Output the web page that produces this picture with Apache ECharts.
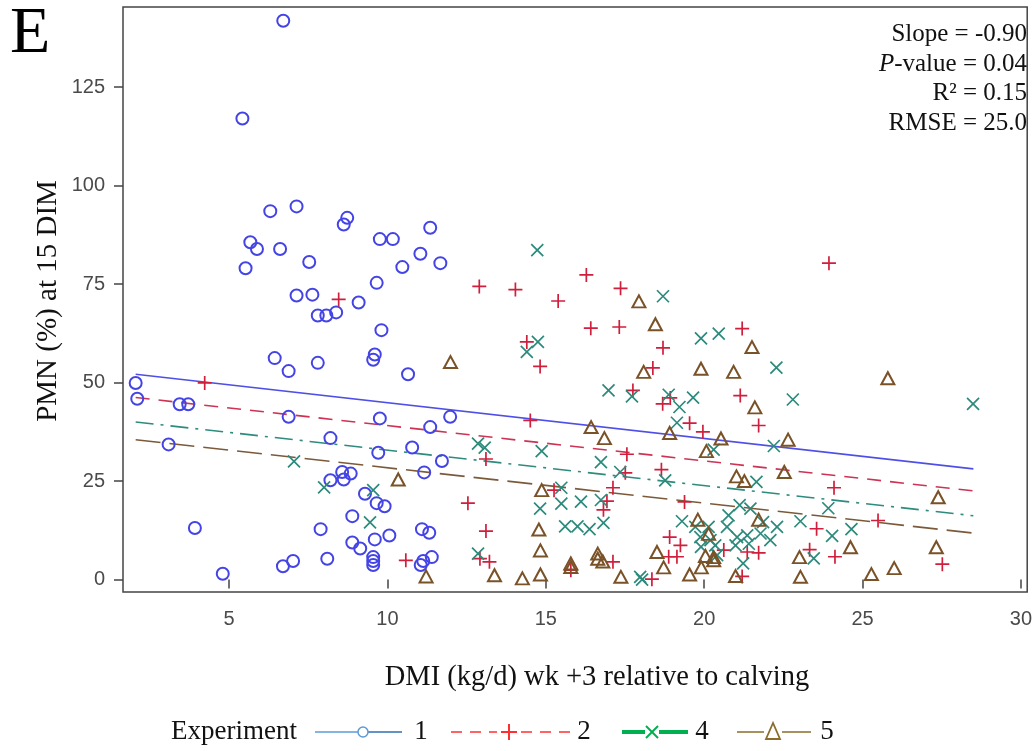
<!DOCTYPE html>
<html><head><meta charset="utf-8">
<script src="https://cdn.jsdelivr.net/npm/echarts@6/dist/echarts.min.js"></script>
<style>html,body{margin:0;padding:0;background:#fff}#c{width:1035px;height:751px}</style>
</head><body><div id="c"></div>
<script>
// Experiment 1 (blue circles) [DMI, PMN]
const exp1 = [[6.71,141.8],[5.42,117.0],[6.30,93.5],[7.13,94.7],[8.73,91.8],[8.62,90.1],[5.67,85.6],[5.88,83.9],[6.61,83.9],[5.52,79.0],[7.53,80.6],[7.13,72.1],[7.63,72.3],[9.09,70.3],[7.80,67.0],[8.07,67.0],[8.38,67.8],[6.44,56.2],[6.88,52.9],[7.80,55.0],[2.05,49.9],[2.10,45.9],[3.44,44.5],[3.71,44.5],[6.88,41.3],[3.09,34.3],[8.20,35.9],[8.57,27.3],[8.84,26.9],[8.62,25.4],[8.20,25.2],[9.29,21.8],[8.89,16.1],[3.92,13.1],[7.89,12.8],[8.89,9.4],[9.14,7.9],[6.70,3.4],[7.02,4.7],[8.10,5.3],[4.80,1.5],[11.35,89.3],[9.76,86.4],[10.17,86.4],[11.04,82.7],[10.47,79.3],[11.67,80.3],[9.66,75.3],[9.81,63.3],[9.60,57.1],[9.55,55.8],[10.65,52.1],[9.76,40.9],[11.35,38.7],[11.98,41.3],[9.71,32.2],[10.78,33.5],[11.72,30.1],[11.16,27.2],[9.66,19.4],[9.91,18.6],[10.06,11.2],[9.60,10.2],[11.09,12.8],[11.32,11.9],[9.55,5.7],[9.55,4.7],[9.55,3.7],[11.40,5.7],[11.13,4.7],[11.05,3.7]];
// Experiment 2 (red plus)
const exp2 = [[8.46,71.1],[4.23,49.9],[12.90,74.4],[14.04,73.6],[15.39,70.7],[16.28,77.3],[16.42,63.8],[14.40,60.3],[14.82,54.1],[14.51,40.4],[13.11,30.6],[12.54,19.4],[13.11,12.3],[12.92,5.3],[13.22,4.5],[10.58,4.9],[15.26,22.7],[16.93,19.9],[16.82,17.7],[15.79,2.4],[17.36,73.9],[17.32,64.1],[18.70,58.8],[21.20,63.7],[18.38,53.7],[17.75,48.0],[18.93,46.1],[18.69,44.6],[21.14,46.7],[19.54,39.7],[19.96,37.5],[21.72,39.1],[17.56,31.8],[17.51,27.1],[18.65,27.9],[17.12,23.3],[19.38,19.7],[18.35,0.1],[18.91,10.8],[19.25,8.7],[18.88,5.8],[19.14,5.8],[17.12,4.5],[21.20,0.8],[20.62,7.5],[21.36,7.0],[21.72,6.8],[23.33,7.6],[23.55,12.9],[23.94,80.3],[27.52,3.9],[25.49,15.0],[24.10,23.3],[24.13,5.8]];
// Experiment 4 (green x)
const exp4 = [[7.05,30.0],[8.00,23.4],[9.55,22.7],[9.45,14.5],[12.86,34.5],[13.07,33.5],[12.86,6.6],[14.73,83.6],[14.75,60.3],[14.40,57.8],[16.98,48.0],[14.87,32.6],[16.74,29.8],[15.49,23.3],[14.82,18.0],[15.49,19.3],[16.11,19.8],[16.74,20.2],[15.61,13.5],[16.00,13.5],[16.38,12.8],[16.82,14.4],[18.70,71.9],[19.90,61.2],[20.46,62.4],[22.28,53.8],[17.72,46.5],[18.88,46.9],[19.22,43.8],[19.65,46.2],[22.80,45.7],[19.14,39.8],[20.30,33.0],[22.20,33.9],[17.35,27.3],[18.77,25.2],[21.65,24.8],[19.30,14.8],[17.98,0.7],[18.04,0.0],[23.04,14.8],[23.46,5.4],[28.49,44.6],[24.65,12.8],[24.04,11.1],[23.92,18.1],[19.72,13.4],[19.88,10.8],[20.14,13.4],[19.90,8.3],[20.20,10.0],[20.35,8.7],[20.41,6.2],[20.72,13.4],[20.77,16.3],[21.12,18.9],[21.46,18.0],[21.04,10.8],[20.99,8.7],[21.36,11.2],[21.41,9.1],[21.78,11.7],[21.86,14.6],[22.09,10.0],[22.30,13.4],[21.23,4.1]];
// Experiment 5 (brown triangles)
const exp5 = [[11.99,55.2],[10.34,25.4],[11.22,0.8],[13.38,1.1],[14.26,0.3],[14.83,1.3],[16.43,38.7],[16.85,35.9],[14.87,22.7],[14.78,12.7],[14.83,7.4],[15.79,4.1],[15.79,3.2],[16.64,6.6],[16.64,5.3],[16.80,4.6],[17.94,70.6],[18.46,64.8],[21.51,59.0],[18.09,52.7],[19.90,53.5],[20.93,52.7],[21.60,43.7],[18.91,37.2],[20.07,32.6],[20.53,35.8],[22.65,35.5],[21.02,26.2],[21.27,25.0],[22.53,27.3],[19.80,15.2],[20.14,11.6],[20.04,6.0],[20.30,5.7],[20.30,4.9],[19.91,3.1],[18.51,7.0],[18.72,3.1],[19.54,1.3],[17.37,0.7],[20.99,0.9],[21.72,15.2],[23.01,5.7],[23.04,0.7],[25.80,51.1],[27.39,20.9],[27.33,8.2],[25.28,1.4],[26.00,2.9],[24.62,8.2]];
// Fitted lines (start/end DMI, predicted PMN)
const fitX = [2.05, 28.5];
const fit1 = [52.1, 28.1];
const fit2 = [46.2, 22.5];
const fit4 = [40.0, 16.2];
const fit5 = [35.5, 11.8];
// Axis ticks
const xTicks = [5, 10, 15, 20, 25, 30];
const yTicks = [0, 25, 50, 75, 100, 125];
const stats = ['Slope = -0.90', '{i|P}-value = 0.04', 'R\u00B2 = 0.15', 'RMSE = 25.0'];
const legendNames = ['1', '2', '4', '5'];

const SERIF = 'Liberation Serif';
const SANS = 'Liberation Sans';
const C1 = '#4444e6', C2 = '#d01f3c', C4 = '#2b8a7c', C5 = '#7a5228';

const chart = echarts.init(document.getElementById('c'));
const pair = (ys) => fitX.map((x, i) => [x, ys[i]]);

const graphics = [];
graphics.push({type:'text', x:10, y:35, style:{text:'E', font:'66px ' + SERIF, fill:'#000', verticalAlign:'middle'}});
const statY = [34, 64, 93, 123];
stats.forEach((t, i) => graphics.push({type:'text', x:1027, y:statY[i], style:{text:t, fontFamily:SERIF, fontSize:25, fill:'#111', align:'right', verticalAlign:'middle', rich:{i:{fontFamily:SERIF, fontSize:25, fontStyle:'italic', fill:'#111'}}}}));
graphics.push({type:'text', x:597, y:678, style:{text:'DMI (kg/d) wk +3 relative to calving', fontFamily:SERIF, fontSize:28.5, fill:'#111', align:'center', verticalAlign:'middle'}});
graphics.push({type:'text', x:48, y:301, rotation:Math.PI/2, style:{text:'PMN (%) at 15 DIM', fontFamily:SERIF, fontSize:29, fill:'#111', align:'center', verticalAlign:'middle'}});
// legend
const LY = 732;
graphics.push({type:'text', x:171, y:LY, style:{text:'Experiment', fontFamily:SERIF, fontSize:27, fill:'#111', verticalAlign:'middle'}});
// 1
graphics.push({type:'line', shape:{x1:315,y1:LY,x2:358,y2:LY}, style:{stroke:'#5b9bd5', lineWidth:1.5}});
graphics.push({type:'line', shape:{x1:368,y1:LY,x2:402,y2:LY}, style:{stroke:'#2e6fb0', lineWidth:1.5}});
graphics.push({type:'circle', shape:{cx:363,cy:LY,r:5}, style:{stroke:'#5b9bd5', fill:'#fff', lineWidth:1.5}});
// 2
graphics.push({type:'line', shape:{x1:451,y1:LY,x2:497,y2:LY}, style:{stroke:'#ff3030', lineWidth:1.5, lineDash:[11,8]}});
graphics.push({type:'line', shape:{x1:521,y1:LY,x2:570,y2:LY}, style:{stroke:'#ff3030', lineWidth:1.5, lineDash:[11,8]}});
graphics.push({type:'line', shape:{x1:509,y1:LY-8,x2:509,y2:LY+8}, style:{stroke:'#ff3030', lineWidth:2}});
graphics.push({type:'line', shape:{x1:501,y1:LY,x2:517,y2:LY}, style:{stroke:'#ff3030', lineWidth:2}});
// 4
graphics.push({type:'line', shape:{x1:622,y1:LY,x2:645,y2:LY}, style:{stroke:'#00b050', lineWidth:4}});
graphics.push({type:'line', shape:{x1:659,y1:LY,x2:688,y2:LY}, style:{stroke:'#00b050', lineWidth:4}});
graphics.push({type:'line', shape:{x1:646,y1:LY-6,x2:658,y2:LY+6}, style:{stroke:'#00b050', lineWidth:2}});
graphics.push({type:'line', shape:{x1:658,y1:LY-6,x2:646,y2:LY+6}, style:{stroke:'#00b050', lineWidth:2}});
// 5
graphics.push({type:'line', shape:{x1:737,y1:LY,x2:764,y2:LY}, style:{stroke:'#8b6c2a', lineWidth:1.5}});
graphics.push({type:'line', shape:{x1:782,y1:LY,x2:811,y2:LY}, style:{stroke:'#8b6c2a', lineWidth:1.5}});
graphics.push({type:'polygon', shape:{points:[[773,LY-9],[766,LY+7],[780,LY+7]]}, style:{stroke:'#8b6c2a', fill:'none', lineWidth:1.8}});
const legX = [421, 584, 702, 827];
legendNames.forEach((n, i) => graphics.push({type:'text', x:legX[i], y:LY, style:{text:n, fontFamily:SERIF, fontSize:27, fill:'#111', align:'center', verticalAlign:'middle'}}));

const tickStyle = {show:true, inside:false, length:9, lineStyle:{color:'#444', width:1.5}};
chart.setOption({
  animation:false,
  backgroundColor:'#fff',
  grid:{left:123, right:5, top:7, bottom:159, show:true, borderColor:'#444', borderWidth:1.5, backgroundColor:'transparent'},
  xAxis:{type:'value', min:1.65, max:30.2,
    axisLine:{show:false}, splitLine:{show:false},
    axisTick:Object.assign({customValues:xTicks}, tickStyle),
    axisLabel:{customValues:xTicks, fontFamily:SANS, fontSize:20, color:'#4a4a4a', margin:17}},
  yAxis:{type:'value', min:-3.15, max:145.3,
    axisLine:{show:false}, splitLine:{show:false},
    axisTick:Object.assign({customValues:yTicks}, tickStyle),
    axisLabel:{customValues:yTicks, fontFamily:SANS, fontSize:20, color:'#4a4a4a', margin:18}},
  series:[
    {type:'line', data:pair(fit1), symbol:'none', lineStyle:{color:'#4f4fe8', width:1.6}, z:2},
    {type:'line', data:pair(fit2), symbol:'none', lineStyle:{color:'#cc3355', width:1.6, type:[14,9]}, z:2},
    {type:'line', data:pair(fit4), symbol:'none', lineStyle:{color:'#2e8b7e', width:1.6, type:[18,7,3,7]}, z:2},
    {type:'line', data:pair(fit5), symbol:'none', lineStyle:{color:'#7b5a3a', width:1.6, type:[25,9]}, z:2},
    {type:'scatter', data:exp1, symbol:'circle', symbolSize:12, itemStyle:{color:'rgba(0,0,0,0)', borderColor:C1, borderWidth:2, opacity:1}, z:3},
    {type:'scatter', data:exp2, symbol:'path://M6,0L6,12M0,6L12,6', symbolSize:14, itemStyle:{color:'none', borderColor:C2, borderWidth:1.7, opacity:1}, z:3},
    {type:'scatter', data:exp4, symbol:'path://M0,0L12,12M12,0L0,12', symbolSize:12, itemStyle:{color:'none', borderColor:C4, borderWidth:1.7, opacity:1}, z:3},
    {type:'scatter', data:exp5, symbol:'triangle', symbolSize:[13,12], itemStyle:{color:'rgba(0,0,0,0)', borderColor:C5, borderWidth:2, opacity:1}, z:3}
  ],
  graphic:graphics
});
</script>
</body></html>
